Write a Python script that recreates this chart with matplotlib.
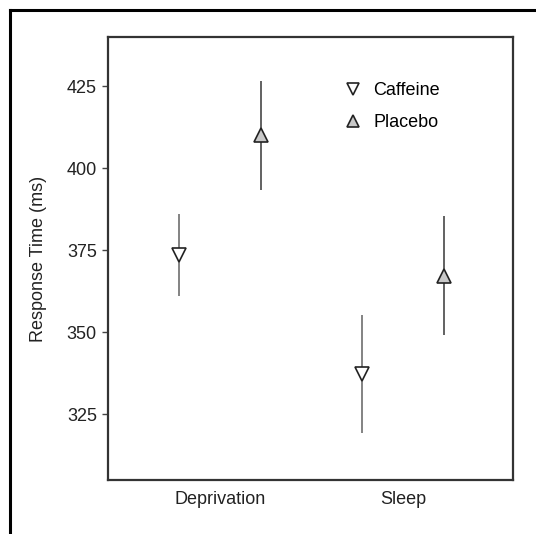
import numpy as np
import matplotlib
matplotlib.use("Agg")
import matplotlib.pyplot as plt
from matplotlib.lines import Line2D

plt.rcParams['font.family'] = ['Liberation Sans', 'DejaVu Sans']

# data
conditions = ["Deprivation", "Sleep"]
caffeine_mean = [373.5, 337.4]
caffeine_err = [12.5, 18.0]
placebo_mean = [410.0, 367.3]
placebo_err = [16.5, 18.0]
yticks = [325, 350, 375, 400, 425]

fig = plt.figure(figsize=(5.36, 5.34), dpi=100)
ax = fig.add_axes([108/536, 1 - 480/534, 405/536, 443/534])

x = np.arange(1, len(conditions) + 1)
dodge = 0.225

ax.errorbar(x - dodge, caffeine_mean, yerr=caffeine_err, fmt='v', ms=10,
            mfc='white', mec='#222222', mew=1.2, ecolor='#7a7a7a', elinewidth=1.3,
            capsize=0, zorder=3)
ax.errorbar(x + dodge, placebo_mean, yerr=placebo_err, fmt='^', ms=10,
            mfc='#c8c8c8', mec='#222222', mew=1.2, ecolor='#555555', elinewidth=1.3,
            capsize=0, zorder=3)

ax.set_xlim(0.39, 2.6)
ax.set_ylim(305, 440)
ax.set_xticks(x)
ax.set_xticklabels(conditions, fontsize=13, color='#222222')
ax.set_yticks(yticks)
ax.set_yticklabels([str(t) for t in yticks], fontsize=13, color='#222222')
ax.tick_params(axis='x', length=0, pad=8)
ax.tick_params(axis='y', length=4, width=1, color='#444444', pad=4)
ax.set_ylabel("Response Time (ms)", fontsize=13, color='#222222', labelpad=14)
for s in ax.spines.values():
    s.set_linewidth(1.6)
    s.set_color('#333333')

handles = [
    Line2D([], [], ls='none', marker='v', ms=9, mfc='white', mec='#222222', mew=1.2),
    Line2D([], [], ls='none', marker='^', ms=9, mfc='#c8c8c8', mec='#222222', mew=1.2),
]
ax.legend(handles, ["Caffeine", "Placebo"], frameon=False, loc='upper left',
          bbox_to_anchor=(0.543, 0.935), fontsize=13, handlelength=1.0,
          handletextpad=0.6, labelspacing=0.85)

# outer frame (left and top edges)
fig.add_artist(Line2D([9.5/536, 9.5/536], [0, 1 - 10/534], transform=fig.transFigure,
                      color='black', lw=2.2))
fig.add_artist(Line2D([9.5/536, 1], [1 - 10/534, 1 - 10/534], transform=fig.transFigure,
                      color='black', lw=2.2))

fig.savefig("out.png", dpi=100)
